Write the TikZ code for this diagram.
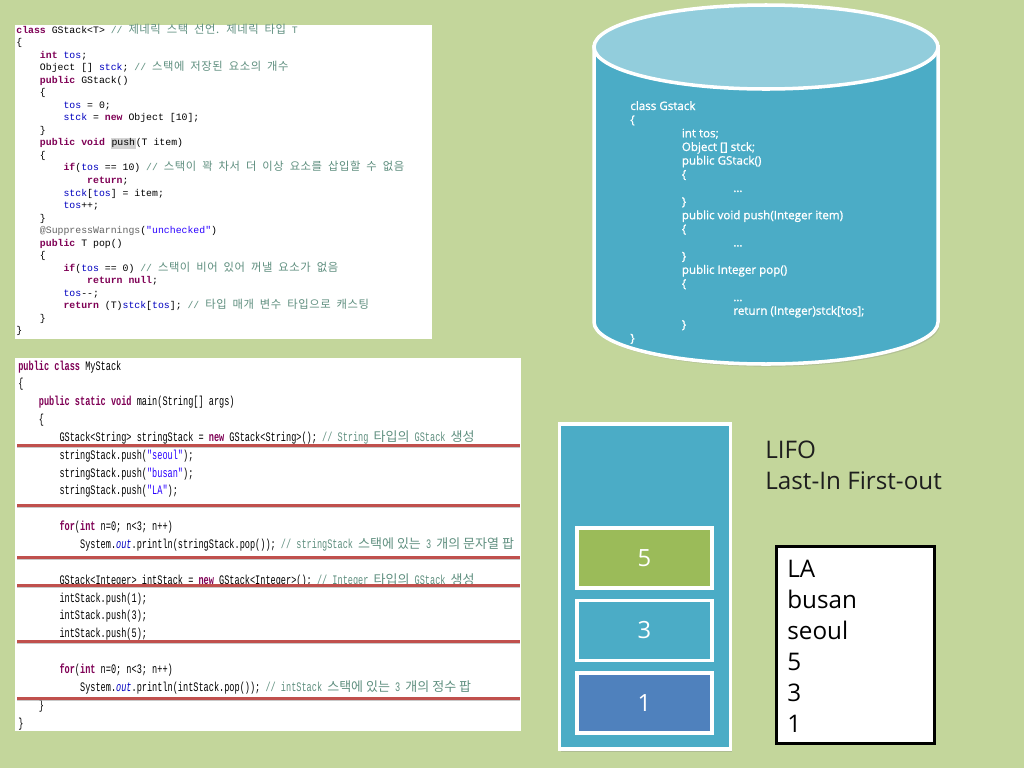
\documentclass[tikz,border=0pt]{standalone}
\usepackage{fontspec}
\usetikzlibrary{shadows}
\setmainfont{Open Sans}
\newfontfamily\cylfont[FakeBold=1.2]{Open Sans}
\newfontfamily\codefont{Liberation Mono}
\newfontfamily\narrowfont[FakeStretch=0.66]{Liberation Mono}
\newfontfamily\krfont{Noto Sans CJK KR}
\newfontfamily\krwide[Scale=1.15, LetterSpace=5]{Noto Sans CJK KR}

\definecolor{bggreen}{HTML}{C3D69B}
\definecolor{cylside}{HTML}{4BACC6}
\definecolor{cyltop}{HTML}{92CDDC}
\definecolor{slotgreen}{HTML}{9BBB59}
\definecolor{slotblue}{HTML}{4F81BD}
\definecolor{redcol}{HTML}{C0504D}
\definecolor{textdark}{HTML}{1E1E1E}
\definecolor{kwcol}{HTML}{7F0055}
\definecolor{fdcol}{HTML}{0000C0}
\definecolor{stcol}{HTML}{2A00FF}
\definecolor{cmcol}{HTML}{5F8F7F}
\definecolor{ancol}{HTML}{646464}
\definecolor{hlcol}{HTML}{D4D4D4}

\newcommand\jkw[1]{\textcolor{kwcol}{\bfseries #1}}
\newcommand\jfd[1]{\textcolor{fdcol}{#1}}
\newcommand\jst[1]{\textcolor{stcol}{#1}}
\newcommand\jcm[1]{\textcolor{cmcol}{#1}}
\newcommand\jan[1]{\textcolor{ancol}{#1}}
\newcommand\jkr[1]{{\krwide\spaceskip=3.4pt\relax #1}}
\newcommand\jkn[1]{{\krfont #1}}
\newcommand\jtab{\phantom{xxxx}}
\newcommand\jhl[1]{{\setlength\fboxsep{0.4pt}\colorbox{hlcol}{#1}}}

\begin{document}
\begin{tikzpicture}[x=0.02cm,y=-0.02cm,
  codeA/.style={anchor=base west, inner sep=0, font=\codefont\fontsize{5.6}{7}\selectfont},
  codeB/.style={anchor=base west, inner sep=0, font=\narrowfont\fontsize{7.4}{9}\selectfont},
  cyltext/.style={anchor=base west, inner sep=0, text=white, font=\cylfont\fontsize{6.6}{7.8}\selectfont},
  bigtext/.style={anchor=base west, inner sep=0, text=textdark, font=\fontsize{13.8}{17}\selectfont},
  slot/.style={draw=white, line width=2pt, minimum width=2.7cm, minimum height=1.2cm, inner sep=0, text=white, font=\fontsize{13.5}{17}\selectfont},
  redline/.style={draw=redcol, line width=1.7pt}]

\useasboundingbox (0,0) rectangle (1024,768);
\fill[bggreen] (0,0) rectangle (1024,768);

% generic class code
\fill[white] (15,25) rectangle (432,339);
\foreach \txt [count=\i from 0] in {
  {\jkw{class} GStack<T> \jcm{// \jkr{제네릭 스택 선언. 제네릭 타입} T}},
  {\{},
  {\jtab\jkw{int} \jfd{tos};},
  {\jtab Object [] \jfd{stck}; \jcm{// \jkr{스택에 저장된 요소의 개수}}},
  {\jtab\jkw{public} GStack()},
  {\jtab\{},
  {\jtab\jtab\jfd{tos} = 0;},
  {\jtab\jtab\jfd{stck} = \jkw{new} Object [10];},
  {\jtab\}},
  {\jtab\jkw{public void} \jhl{push}(T item)},
  {\jtab\{},
  {\jtab\jtab\jkw{if}(\jfd{tos} == 10) \jcm{// \jkr{스택이 꽉 차서 더 이상 요소를 삽입할 수 없음}}},
  {\jtab\jtab\jtab\jkw{return};},
  {\jtab\jtab\jfd{stck}[\jfd{tos}] = item;},
  {\jtab\jtab\jfd{tos}++;},
  {\jtab\}},
  {\jtab\jan{@SuppressWarnings}(\jst{"unchecked"})},
  {\jtab\jkw{public} T pop()},
  {\jtab\{},
  {\jtab\jtab\jkw{if}(\jfd{tos} == 0) \jcm{// \jkr{스택이 비어 있어 꺼낼 요소가 없음}}},
  {\jtab\jtab\jtab\jkw{return null};},
  {\jtab\jtab\jfd{tos}-{}-;},
  {\jtab\jtab\jkw{return} (T)\jfd{stck}[\jfd{tos}]; \jcm{// \jkr{타입 매개 변수 타입으로 캐스팅}}},
  {\jtab\}},
  {\}}}
  \node[codeA] (ga\i) at (16,33+12.54*\i) {\txt};

% main program code
\fill[white] (15,358) rectangle (521,731);
\foreach \txt [count=\i from 0] in {
  {\jkw{public class} MyStack},
  {\{},
  {\jtab\jkw{public static void} main(String[] args)},
  {\jtab\{},
  {\jtab\jtab GStack<String> stringStack = \jkw{new} GStack<String>(); \jcm{// String \jkn{타입의} GStack \jkn{생성}}},
  {\jtab\jtab stringStack.push(\jst{"seoul"});},
  {\jtab\jtab stringStack.push(\jst{"busan"});},
  {\jtab\jtab stringStack.push(\jst{"LA"});},
  {},
  {\jtab\jtab\jkw{for}(\jkw{int} n=0; n<3; n++)},
  {\jtab\jtab\jtab System.\jfd{\itshape out}.println(stringStack.pop()); \jcm{// stringStack \jkn{스택에 있는} 3 \jkn{개의 문자열 팝}}},
  {},
  {\jtab\jtab GStack<Integer> intStack = \jkw{new} GStack<Integer>(); \jcm{// Integer \jkn{타입의} GStack \jkn{생성}}},
  {\jtab\jtab intStack.push(1);},
  {\jtab\jtab intStack.push(3);},
  {\jtab\jtab intStack.push(5);},
  {},
  {\jtab\jtab\jkw{for}(\jkw{int} n=0; n<3; n++)},
  {\jtab\jtab\jtab System.\jfd{\itshape out}.println(intStack.pop()); \jcm{// intStack \jkn{스택에 있는} 3 \jkn{개의 정수 팝}}},
  {\jtab\}},
  {\}}}
  \node[codeB] (gb\i) at (18,370+17.85*\i) {\txt};
\foreach \y in {445,505,557,585,641,698}{
  \draw[black!35, line width=1.2pt, opacity=0.6] (17,\y+2) -- (520,\y+2);
  \draw[redline] (17,\y) -- (520,\y);
}

% cylinder
\draw[white, line width=2pt, fill=cylside, drop shadow={opacity=0.25, shadow xshift=1pt, shadow yshift=-1.5pt}]
  (594,47) -- (594,322) arc[start angle=180, end angle=0, x radius=172, y radius=42] -- (938,47) -- cycle;
\draw[white, line width=2pt, fill=cyltop] (766,47) ellipse [x radius=172, y radius=42];
\foreach \lv/\txt [count=\i from 0] in {0/class Gstack, 0/\{, 1/int tos;, 1/Object [] stck;, 1/public GStack(), 1/\{, 2/\ldots, 1/\},
  1/public void push(Integer item), 1/\{, 2/\ldots, 1/\}, 1/public Integer pop(), 1/\{, 2/\ldots, 2/return (Integer)stck[tos];, 1/\}, 0/\}}
  \node[cyltext] (cy\i) at (630+51.5*\lv,110+13.65*\i) {\txt};

% stack
\node[draw=white, line width=2pt, fill=cylside, minimum width=3.42cm, minimum height=6.5cm, drop shadow={opacity=0.3, shadow xshift=1pt, shadow yshift=-1.5pt}] (stackbox) at (645,586.5) {};
\node[slot, fill=slotgreen] (s5) at (644.5,558) {5};
\node[slot, fill=cylside] (s3) at (644.5,630.5) {3};
\node[slot, fill=slotblue] (s1) at (644.5,703) {1};

\node[bigtext] (lifo) at (765,458) {LIFO};
\node[bigtext] (lifolong) at (765,489) {Last-In First-out};

% output
\node[draw=black, line width=1.5pt, fill=white, minimum width=3.15cm, minimum height=3.93cm] (outbox) at (855.5,645) {};
\foreach \txt [count=\i from 0] in {LA,busan,seoul,5,3,1}
  \node[bigtext, text=black] (out\i) at (787,577+31*\i) {\txt};
\end{tikzpicture}
\end{document}
